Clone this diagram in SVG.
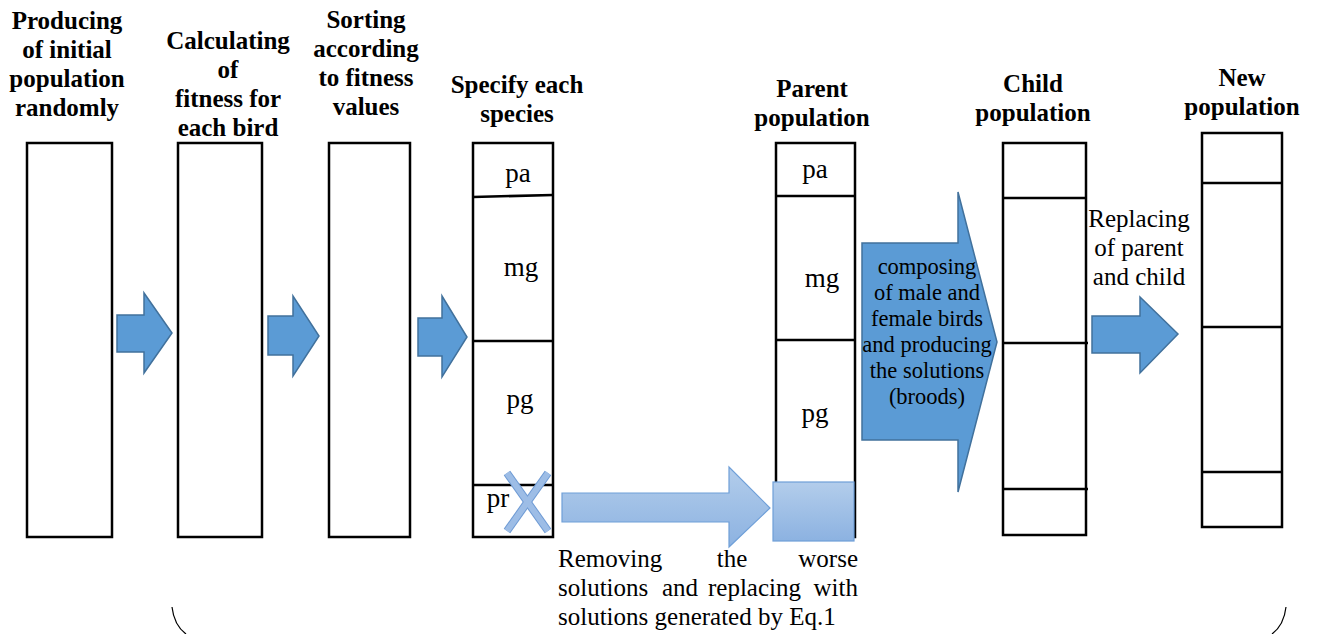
<svg xmlns="http://www.w3.org/2000/svg" width="1317" height="634" viewBox="0 0 1317 634" font-family="'Liberation Serif', 'Times New Roman', Times, serif">
<defs>
<linearGradient id="lg" x1="0" y1="0" x2="0" y2="1">
<stop offset="0" stop-color="#b3cdeb"/>
<stop offset="1" stop-color="#8cb2e1"/>
</linearGradient>
<style>
text{font-family:'Liberation Serif','Times New Roman',Times,serif}
.box{fill:#fff;stroke:#000;stroke-width:2.5}
.div{stroke:#000;stroke-width:2.5;fill:none}
.title{font-weight:bold;font-size:25px;text-anchor:middle;fill:#000}
.lbl{font-size:27px;text-anchor:middle;fill:#000}
.txt{font-size:25px;fill:#000}
.inarr{font-size:22.5px;text-anchor:middle;fill:#000}
.arr{fill:#5b9bd5;stroke:#41719c;stroke-width:1.5}
.larr{fill:url(#lg);stroke:#6f9fd8;stroke-width:1.2}
.arc{fill:none;stroke:#000;stroke-width:1.2}
</style>
</defs>
<rect width="1317" height="634" fill="#fff"/>

<g id="n1">
<text class="title" x="67" y="29">Producing</text>
<text class="title" x="67" y="58">of initial</text>
<text class="title" x="67" y="87">population</text>
<text class="title" x="67" y="116">randomly</text>
<rect class="box" x="27" y="143" width="85" height="394"/>
</g>

<g id="n2">
<text class="title" x="228" y="49">Calculating</text>
<text class="title" x="228" y="78">of</text>
<text class="title" x="228" y="107">fitness for</text>
<text class="title" x="228" y="136">each bird</text>
<rect class="box" x="178" y="143" width="84" height="394"/>
</g>

<g id="n3">
<text class="title" x="366" y="28">Sorting</text>
<text class="title" x="366" y="57">according</text>
<text class="title" x="366" y="86">to fitness</text>
<text class="title" x="366" y="115">values</text>
<rect class="box" x="329" y="143" width="81" height="394"/>
</g>

<g id="n4">
<text class="title" x="517" y="93">Specify each</text>
<text class="title" x="517" y="122">species</text>
<rect class="box" x="473" y="143" width="80" height="394"/>
<line class="div" x1="473" y1="197" x2="553" y2="195"/>
<line class="div" x1="473" y1="341" x2="553" y2="341"/>
<line class="div" x1="473" y1="485" x2="553" y2="485"/>
<text class="lbl" x="518" y="182">pa</text>
<text class="lbl" x="521" y="276">mg</text>
<text class="lbl" x="520" y="408">pg</text>
<text class="lbl" x="498" y="507">pr</text>
<g id="xmark">
<line x1="507" y1="473" x2="548" y2="531" stroke="#6d9ad4" stroke-width="8"/>
<line x1="548" y1="473" x2="507" y2="531" stroke="#6d9ad4" stroke-width="8"/>
<line x1="507" y1="473" x2="548" y2="531" stroke="#9dbde6" stroke-width="6"/>
<line x1="548" y1="473" x2="507" y2="531" stroke="#9dbde6" stroke-width="6"/>
</g>
</g>

<g id="n5">
<text class="title" x="812" y="97">Parent</text>
<text class="title" x="812" y="126">population</text>
<rect class="box" x="776" y="143" width="79" height="394"/>
<line class="div" x1="776" y1="196" x2="855" y2="196"/>
<line class="div" x1="776" y1="340" x2="855" y2="340"/>
<text class="lbl" x="815" y="178">pa</text>
<text class="lbl" x="822" y="287">mg</text>
<text class="lbl" x="815" y="422">pg</text>
<rect x="773" y="482" width="81" height="59" fill="url(#lg)" stroke="#6f9fd8" stroke-width="1.2"/>
</g>

<g id="n6">
<text class="title" x="1033" y="92">Child</text>
<text class="title" x="1033" y="121">population</text>
<rect class="box" x="1003" y="143" width="83" height="392"/>
<line class="div" x1="1003" y1="198" x2="1086" y2="198"/>
<line class="div" x1="1003" y1="343" x2="1088" y2="343"/>
<line class="div" x1="1003" y1="489" x2="1088" y2="489"/>
</g>

<g id="n7">
<text class="title" x="1242" y="86">New</text>
<text class="title" x="1242" y="115">population</text>
<rect class="box" x="1202" y="133" width="80" height="394"/>
<line class="div" x1="1202" y1="183" x2="1282" y2="183"/>
<line class="div" x1="1202" y1="327" x2="1282" y2="327"/>
<line class="div" x1="1202" y1="472" x2="1282" y2="472"/>
</g>

<g id="connectors">
<polygon class="arr" points="117,315 144,315 144,293 172,333 144,373 144,352 117,352"/>
<polygon class="arr" points="268,316 293,316 293,296 319,336 293,376 293,355 268,355"/>
<polygon class="arr" points="418,318 442,318 442,296 467,337 442,377 442,356 418,356"/>
<polygon class="larr" points="562,493 729,493 729,467 770,508 729,547 729,522 562,522"/>
<polygon class="arr" points="862,243 958,243 958,192 997,342 958,492 958,440 862,440"/>
<polygon class="arr" points="1092,316 1140,316 1140,297 1178,334 1140,373 1140,353 1092,353"/>
<text class="inarr" x="927" y="274">composing</text>
<text class="inarr" x="927" y="300">of male and</text>
<text class="inarr" x="927" y="326">female birds</text>
<text class="inarr" x="927" y="352">and producing</text>
<text class="inarr" x="927" y="378">the solutions</text>
<text class="inarr" x="927" y="404">(broods)</text>
<text class="txt" x="1139" y="227" text-anchor="middle">Replacing</text>
<text class="txt" x="1139" y="256" text-anchor="middle">of parent</text>
<text class="txt" x="1139" y="285" text-anchor="middle">and child</text>
<text class="txt" x="558" y="567">Removing</text>
<text class="txt" x="732" y="567" text-anchor="middle">the</text>
<text class="txt" x="858" y="567" text-anchor="end">worse</text>
<text class="txt" x="558" y="596">solutions</text>
<text class="txt" x="662" y="596">and</text>
<text class="txt" x="708" y="596">replacing</text>
<text class="txt" x="858" y="596" text-anchor="end">with</text>
<text class="txt" x="558" y="625">solutions generated by Eq.1</text>
<path class="arc" d="M172,607 Q174,625 186,634"/>
<path class="arc" d="M1286,607 Q1284,625 1272,634"/>
</g>
</svg>
